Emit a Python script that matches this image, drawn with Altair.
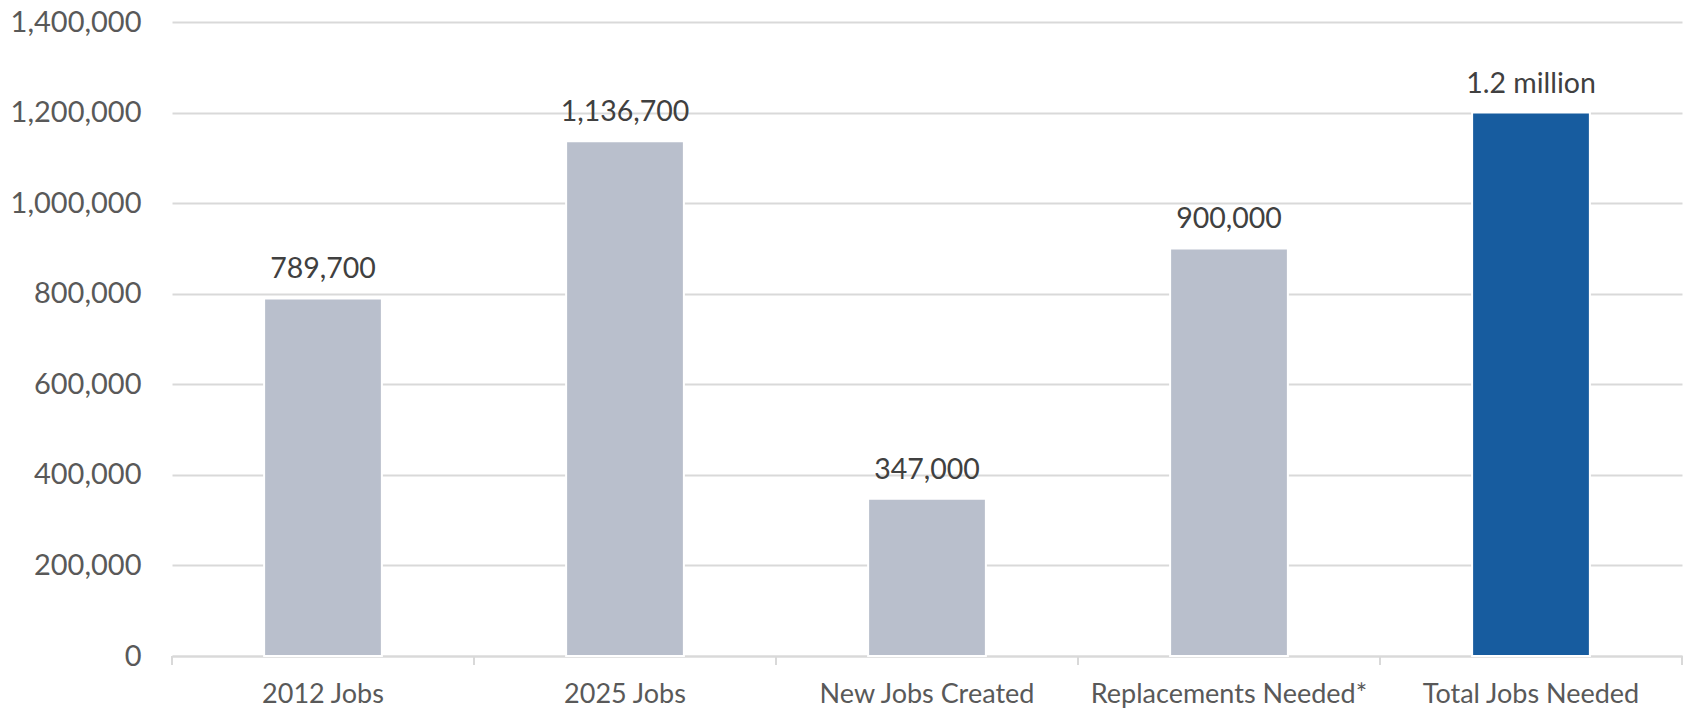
import altair as alt
import pandas as pd

categories = ["2012 Jobs", "2025 Jobs", "New Jobs Created", "Replacements Needed*", "Total Jobs Needed"]
values = [789700, 1136700, 347000, 900000, 1200000]
value_labels = ["789,700", "1,136,700", "347,000", "900,000", "1.2 million"]
highlight = ["no", "no", "no", "no", "yes"]
y_ticks = [0, 200000, 400000, 600000, 800000, 1000000, 1200000, 1400000]
boundaries = list(range(len(categories) + 1))

df = pd.DataFrame({"cat": categories, "val": values, "lab": value_labels, "hl": highlight})
bdf = pd.DataFrame({"b": boundaries})

FONT = "Lato"

x = alt.X("cat:N", sort=categories, title=None,
          scale=alt.Scale(paddingInner=0.61, paddingOuter=0.305),
          axis=alt.Axis(labelAngle=0, labelFont=FONT, labelFontSize=27, labelColor="#595959",
                        labelPadding=25, labelLimit=0, domainColor="#D9D9D9", domainWidth=2,
                        ticks=False, grid=False))
y = alt.Y("val:Q", title=None,
          scale=alt.Scale(domain=[0, 1400000], nice=False),
          axis=alt.Axis(values=y_ticks, format=",.0f", labelFont=FONT, labelFontSize=29,
                        labelColor="#595959", labelPadding=31, domain=False, ticks=False,
                        gridColor="#D9D9D9", gridWidth=2))

bars = alt.Chart(df).mark_bar(stroke="white", strokeWidth=2).encode(
    x=x, y=y,
    color=alt.Color("hl:N", scale=alt.Scale(domain=["no", "yes"], range=["#B9BFCC", "#175C9F"]), legend=None),
)
labels = alt.Chart(df).mark_text(font=FONT, fontSize=28.5, color="#404040", dy=-29, baseline="middle").encode(
    x=alt.X("cat:N", sort=categories), y="val:Q", text="lab:N"
)
ticks = alt.Chart(bdf).mark_rule(color="#D9D9D9", strokeWidth=2).encode(
    x=alt.X("b:Q", scale=alt.Scale(domain=[0, len(categories)], nice=False, zero=False), axis=None),
    y=alt.value(634), y2=alt.value(643),
)

main = alt.layer(bars, labels).resolve_scale(x="shared").resolve_axis(x="shared")
chart = alt.layer(main, ticks).resolve_scale(x="independent").properties(
    width=1510, height=634,
    autosize=alt.AutoSizeParams(type="none"),
    padding={"left": 172, "top": 22, "right": 3, "bottom": 52},
).configure_view(stroke=None)

chart.save("out.html", embed_options={"renderer": "svg", "actions": False})
